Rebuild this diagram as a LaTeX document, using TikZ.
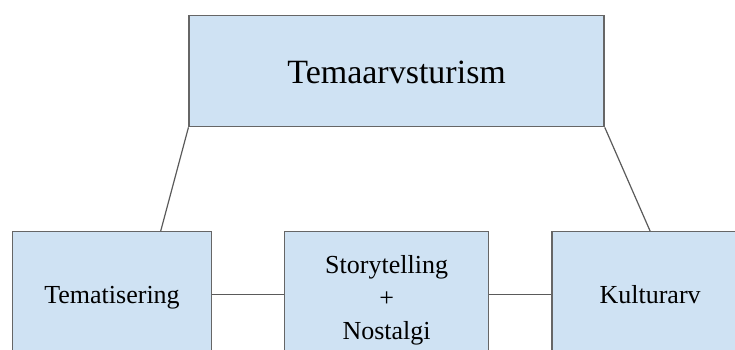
\documentclass[tikz,border=0pt]{standalone}
\usepackage{fontspec}
\setmainfont{Liberation Serif}
\usepackage{xcolor}
\usetikzlibrary{positioning}

\definecolor{boxblue}{HTML}{CFE2F3}
\definecolor{boxgrey}{HTML}{666666}
\definecolor{linegrey}{HTML}{5A5A5A}

\begin{document}
\begin{tikzpicture}[x=1pt, y=-1pt, node distance=72pt,
    themebox/.style={rectangle, draw=boxgrey, fill=boxblue, line width=1.3pt, minimum height=125pt, inner sep=0pt, align=center, text height=24.7pt, text depth=5.2pt, font=\fontsize{26}{33}\selectfont},
    topbox/.style={themebox, minimum width=415pt, minimum height=111pt, text height=30.4pt, text depth=6.8pt, font=\fontsize{34}{40}\selectfont},
    link/.style={draw=linegrey, line width=1.2pt}]
    \clip (0,0) rectangle (735,349);
    % Top: main concept
    \node[topbox] (tema) at (396.6,71.2) {Temaarvsturism};
    % Bottom row
    \node[themebox, minimum width=198.6pt] (tematis) at (112,294.2) {Tematisering};
    \node[themebox, minimum width=204pt, text height=96pt, right=72pt of tematis] (story) {Storytelling\\+\\Nostalgi};
    \node[themebox, minimum width=196.4pt, right=62pt of story] (kultur) {Kulturarv};
    % Connectors
    \draw[link] (tema.south west) -- ([xshift=48.7pt]tematis.north);
    \draw[link] (tema.south east) -- (kultur.north);
    \draw[link] (tematis) -- (story);
    \draw[link] (story) -- (kultur);
\end{tikzpicture}
\end{document}
